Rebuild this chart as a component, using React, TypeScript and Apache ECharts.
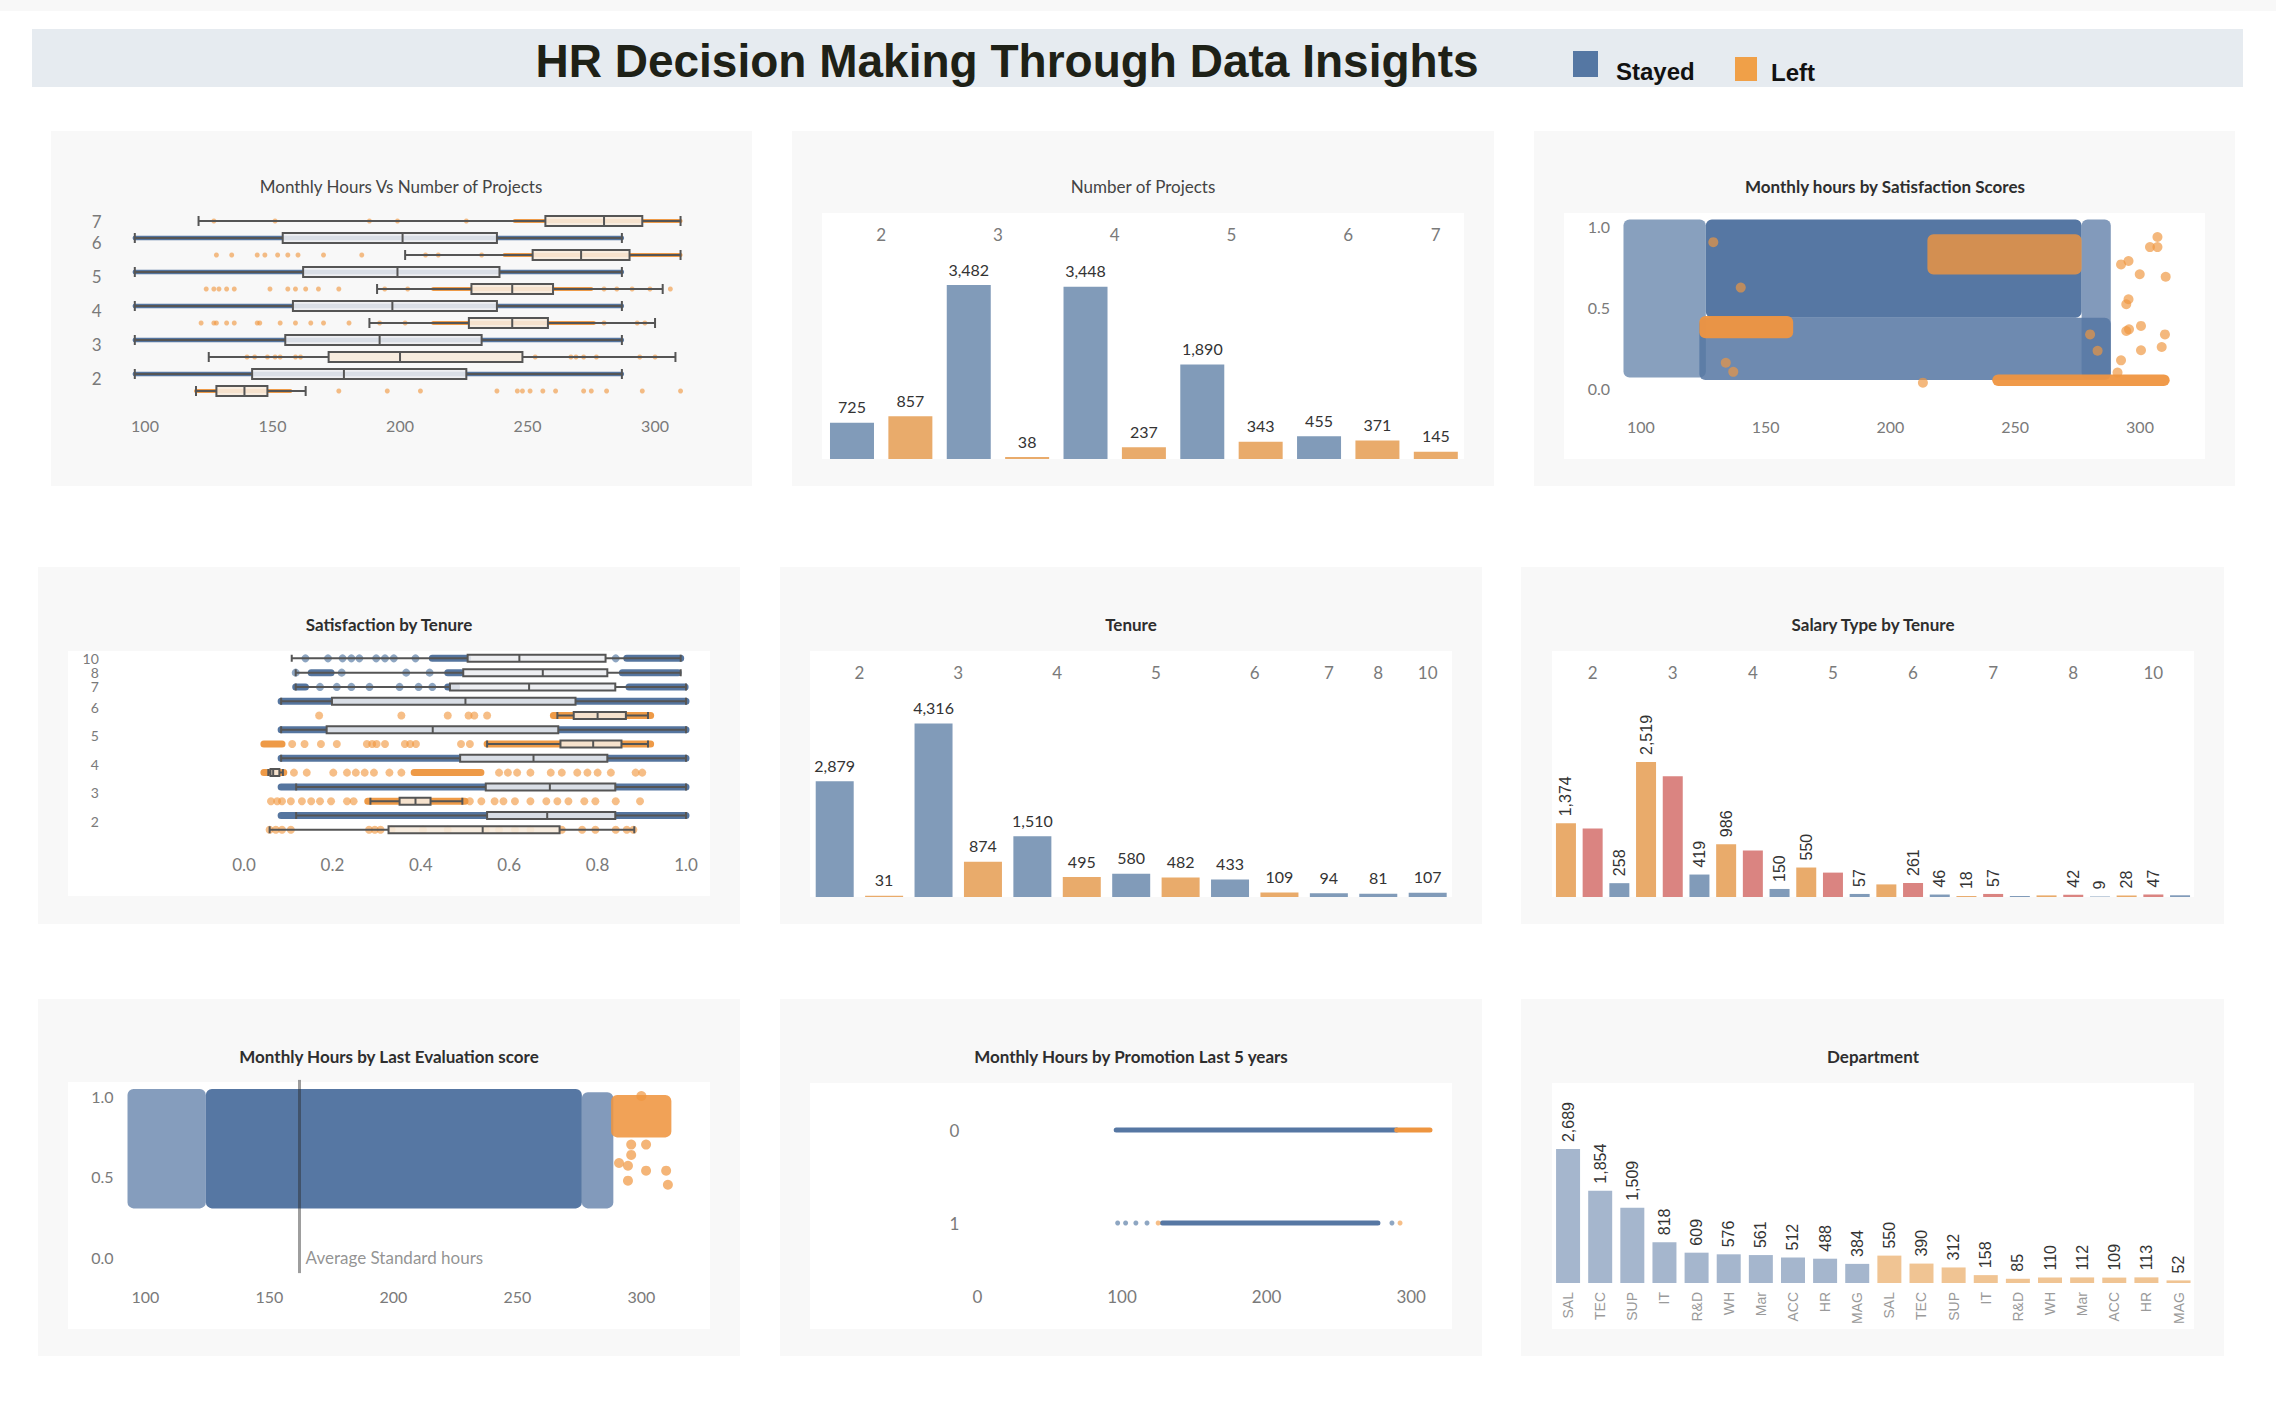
import React, { useEffect, useRef } from 'react';
import * as echarts from 'echarts';

const FONT = 'Lato, "Open Sans", "Noto Sans", sans-serif';
const ARIAL = '"Liberation Sans", Arial, sans-serif';

const STAYED_BAR = '#819bb9';
const LEFT_BAR = '#e9ab6b';
const MEDIUM_BAR = '#da8481';
const STAYED_DENSE = '#55759f';
const LEFT_DENSE = '#ee9a47';
const STAYED_DOT = 'rgba(78,115,160,0.8)';
const LEFT_DOT = 'rgba(240,150,62,0.78)';
const DEPT_STAYED = '#a5b6cd';
const DEPT_LEFT = '#f0c493';

// ================= DATA =================
const hoursTicks = [100, 150, 200, 250, 300];
const scoreTicks = [0, 0.5, 1];
const satTicks = [0, 0.2, 0.4, 0.6, 0.8, 1];
const promoHourTicks = [0, 100, 200, 300];

// --- Monthly Hours Vs Number of Projects (box plots) ---
const projRowLabels = ['7', '6', '6', '5', '5', '4', '4', '3', '3', '2', '2'];
const projRowStatus = ['Left', 'Stayed', 'Left', 'Stayed', 'Left', 'Stayed', 'Left', 'Stayed', 'Left', 'Stayed', 'Left'];
const projHoursBox = [
  [121, 257, 280, 295, 310],
  [96, 154, 201, 238, 287],
  [202, 252, 271, 290, 310],
  [96, 162, 199, 239, 287],
  [191, 228, 244, 260, 303],
  [96, 158, 197, 238, 287],
  [188, 227, 244, 258, 300],
  [96, 155, 192, 232, 287],
  [125, 172, 200, 248, 308],
  [96, 142, 178, 226, 287],
  [120, 128, 139, 148, 163],
];
const projHoursDense = [
  [1, 96, 287], [3, 96, 287], [5, 96, 287], [7, 96, 287], [9, 96, 287],
  [0, 245, 310], [2, 241, 310], [4, 213, 275], [6, 213, 276], [10, 120, 157],
];
const projHoursDots = [
  [127, 151, 188, 199, 226],
  [],
  [128, 134, 144, 147, 152, 156, 160, 170, 185, 210, 215, 232],
  [],
  [124, 127, 129, 132, 135, 149, 156, 159, 163, 168, 176, 194, 203, 280, 285, 291, 298, 306],
  [],
  [122, 127, 128, 132, 135, 144, 145, 153, 159, 165, 170, 180, 192, 202, 280, 293, 296],
  [],
  [140, 143, 148, 151, 153, 159, 161, 253, 267, 269, 272, 277, 294, 300],
  [],
  [176, 195, 208, 238, 246, 248, 251, 256, 261, 272, 275, 281, 295, 310],
];

// --- Number of Projects (bars) ---
const projBarGroup = ['2', '2', '3', '3', '4', '4', '5', '5', '6', '6', '7'];
const projBarStatus = ['Stayed', 'Left', 'Stayed', 'Left', 'Stayed', 'Left', 'Stayed', 'Left', 'Stayed', 'Left', 'Left'];
const projBarValues = [725, 857, 3482, 38, 3448, 237, 1890, 343, 455, 371, 145];

// --- Monthly hours by Satisfaction Scores (point clouds: [hoursFrom, hoursTo, satFrom, satTo, density]) ---
const satHoursStayedClouds = [
  [126, 276.6, 0.434, 1.04, 1],
  [123.4, 288.3, 0.05, 0.434, 0.86],
  [93, 126, 0.065, 1.04, 0.7],
  [276.6, 288.3, 0.055, 1.04, 0.74],
];
const satHoursLeftClouds = [
  [123.4, 161, 0.307, 0.444, 0.95],
  [214.8, 276.6, 0.7, 0.949, 0.82],
  [240.8, 311.9, 0.012, 0.084, 0.95],
];
const satHoursLeftDots = [
  [292.4, 0.763], [295.4, 0.784], [299.9, 0.702], [310.3, 0.687], [304, 0.87], [307, 0.932], [307, 0.87],
  [294.5, 0.517], [295.4, 0.548], [294.5, 0.352], [295.6, 0.362], [300.4, 0.383], [310, 0.331],
  [300.4, 0.233], [308.7, 0.253], [292.4, 0.171], [291, 0.095], [134, 0.156], [137, 0.1], [213, 0.033],
  [280, 0.331], [283, 0.23], [129, 0.9], [140, 0.62],
];

// --- Satisfaction by Tenure (box plots) ---
const tenureRowLabels = ['10', '8', '7', '6', '6', '5', '5', '4', '4', '3', '3', '2', '2'];
const tenureRowStatus = ['Stayed', 'Stayed', 'Stayed', 'Stayed', 'Left', 'Stayed', 'Left', 'Stayed', 'Left', 'Stayed', 'Left', 'Stayed', 'Left'];
const satBox = [
  [0.108, 0.506, 0.623, 0.818, 0.988],
  [0.117, 0.496, 0.676, 0.822, 0.988],
  [0.117, 0.466, 0.645, 0.84, 1.0],
  [0.084, 0.199, 0.501, 0.75, 1.0],
  [0.709, 0.746, 0.8, 0.864, 0.914],
  [0.084, 0.187, 0.427, 0.711, 1.0],
  [0.55, 0.716, 0.79, 0.854, 0.914],
  [0.084, 0.489, 0.655, 0.822, 1.0],
  [0.055, 0.06, 0.066, 0.08, 0.088],
  [0.118, 0.547, 0.692, 0.84, 1.0],
  [0.286, 0.352, 0.388, 0.422, 0.494],
  [0.118, 0.55, 0.686, 0.84, 1.0],
  [0.058, 0.327, 0.54, 0.714, 0.883],
];
const satDense = [
  [0, 0.426, 0.506], [0, 0.866, 0.988],
  [1, 0.152, 0.197], [1, 0.461, 0.491], [1, 0.856, 0.982],
  [2, 0.117, 0.139], [2, 0.461, 0.481], [2, 0.871, 0.998],
  [3, 0.084, 1.0], [5, 0.084, 1.0], [7, 0.084, 1.0], [9, 0.084, 1.0], [11, 0.084, 1.0],
  [4, 0.7, 0.92],
  [6, 0.045, 0.086], [6, 0.55, 0.92],
  [8, 0.045, 0.09], [8, 0.385, 0.536],
  [10, 0.28, 0.5],
];
const satDots = [
  [0.139, 0.19, 0.223, 0.243, 0.261, 0.299, 0.319, 0.339, 0.388, 0.841],
  [0.117, 0.221, 0.367, 0.42],
  [0.172, 0.21, 0.243, 0.284, 0.352, 0.395, 0.426],
  [],
  [0.17, 0.356, 0.461, 0.508, 0.521, 0.55],
  [],
  [0.109, 0.137, 0.174, 0.21, 0.278, 0.29, 0.3, 0.319, 0.364, 0.376, 0.389, 0.491, 0.511],
  [],
  [0.113, 0.142, 0.202, 0.233, 0.253, 0.273, 0.294, 0.329, 0.356, 0.577, 0.597, 0.618, 0.648, 0.694, 0.719, 0.754, 0.777, 0.8, 0.83, 0.886, 0.901],
  [],
  [0.061, 0.075, 0.086, 0.106, 0.131, 0.152, 0.172, 0.197, 0.233, 0.248, 0.511, 0.537, 0.567, 0.587, 0.613, 0.648, 0.684, 0.709, 0.734, 0.77, 0.795, 0.841, 0.896],
  [],
  [0.058, 0.072, 0.086, 0.106, 0.283, 0.296, 0.309, 0.334, 0.405, 0.461, 0.547, 0.577, 0.613, 0.648, 0.719, 0.765, 0.795, 0.841, 0.866, 0.881],
];

// --- Tenure (bars) ---
const tenureBarGroup = ['2', '2', '3', '3', '4', '4', '5', '5', '6', '6', '7', '8', '10'];
const tenureBarStatus = ['Stayed', 'Left', 'Stayed', 'Left', 'Stayed', 'Left', 'Stayed', 'Left', 'Stayed', 'Left', 'Stayed', 'Stayed', 'Stayed'];
const tenureBarValues = [2879, 31, 4316, 874, 1510, 495, 580, 482, 433, 109, 94, 81, 107];

// --- Salary Type by Tenure ---
const salaryTenure = ['2', '3', '4', '5', '6', '7', '8', '10'];
const salaryLevels = ['low', 'medium', 'high'];
const salaryLow = [1374, 2519, 986, 550, 235, 18, 30, 28];
const salaryMedium = [1278, 2252, 869, 455, 261, 57, 42, 47];
const salaryHigh = [258, 419, 150, 57, 46, 19, 9, 32];
const salaryLowLabeled = [true, true, true, true, false, true, false, true];
const salaryMediumLabeled = [false, false, false, false, true, true, true, true];
const salaryHighLabeled = [true, true, true, true, true, false, true, false];

// --- Monthly Hours by Last Evaluation score ---
const evalStayedClouds = [
  [124.4, 276, 0.302, 1.043, 1],
  [92.8, 124.4, 0.302, 1.043, 0.72],
  [276, 288.7, 0.302, 1.023, 0.74],
];
const evalLeftClouds = [[287.8, 312.1, 0.743, 1.006, 0.88]];
const evalLeftDots = [
  [295.9, 0.698], [301.9, 0.698], [295.9, 0.634], [291, 0.584], [294.6, 0.567], [294.6, 0.474],
  [301.9, 0.536], [310, 0.536], [310.7, 0.449], [300, 1.0],
];
const avgStandardHours = 162;

// --- Monthly Hours by Promotion Last 5 years ---
const promoRows = ['0', '1'];
const promoStayedDense = [[0, 96, 290], [1, 128, 277]];
const promoLeftDense = [[0, 290, 313]];
const promoStayedDots = [[97, 1], [102.5, 1], [109.6, 1], [117.3, 1], [286.7, 1]];
const promoLeftDots = [[125, 1], [292.3, 1]];

// --- Department ---
const deptNames = ['SAL', 'TEC', 'SUP', 'IT', 'R&D', 'WH', 'Mar', 'ACC', 'HR', 'MAG'];
const deptStayed = [2689, 1854, 1509, 818, 609, 576, 561, 512, 488, 384];
const deptLeft = [550, 390, 312, 158, 85, 110, 112, 109, 113, 52];

// ================= HELPERS =================
const fmt = (v: number) => Number(v).toLocaleString('en-US');

function groupCenters(groups: string[]) {
  const order: string[] = [];
  const idx: Record<string, number[]> = {};
  groups.forEach((g, i) => {
    if (!idx[g]) { idx[g] = []; order.push(g); }
    idx[g].push(i);
  });
  return order.map((g) => ({ label: g, pos: idx[g].reduce((a, b) => a + b, 0) / idx[g].length }));
}
const labelAt = (centers: { label: string; pos: number }[], v: number) => {
  const c = centers.find((c) => Math.abs(c.pos - v) < 1e-6);
  return c ? c.label : '';
};

function stripSeries(xi: number, yi: number, rows: number[][], color: string, thickness: number, z: number) {
  return {
    type: 'custom', xAxisIndex: xi, yAxisIndex: yi, z, silent: true,
    encode: { x: [1, 2], y: 0 },
    data: rows,
    renderItem: (_p: any, api: any) => {
      const a = api.coord([api.value(1), api.value(0)]);
      const b = api.coord([api.value(2), api.value(0)]);
      return {
        type: 'rect',
        shape: { x: a[0] - thickness / 2, y: a[1] - thickness / 2, width: Math.max(b[0] - a[0], 0) + thickness, height: thickness, r: thickness / 2 },
        style: { fill: color },
      };
    },
  };
}

function cloudSeries(xi: number, yi: number, clouds: number[][], color: string, z: number) {
  return {
    type: 'custom', xAxisIndex: xi, yAxisIndex: yi, z, silent: true,
    encode: { x: [0, 1], y: [2, 3] },
    data: clouds,
    renderItem: (_p: any, api: any) => {
      const a = api.coord([api.value(0), api.value(3)]);
      const b = api.coord([api.value(1), api.value(2)]);
      return {
        type: 'rect',
        shape: { x: a[0], y: a[1], width: b[0] - a[0], height: b[1] - a[1], r: 6 },
        style: { fill: color, opacity: api.value(4) },
      };
    },
  };
}

function dotSeries(xi: number, yi: number, data: number[][], color: string, size: number, z: number) {
  return { type: 'scatter', xAxisIndex: xi, yAxisIndex: yi, z, silent: true, symbolSize: size, itemStyle: { color }, data };
}

function boxSeries(xi: number, yi: number, boxes: number[][], status: string[], width: number, z: number) {
  return {
    type: 'boxplot', xAxisIndex: xi, yAxisIndex: yi, z, silent: true, boxWidth: [width, width],
    itemStyle: { borderColor: '#555', borderWidth: 2 },
    data: boxes.map((b, i) => ({
      value: b,
      itemStyle: { color: status[i] === 'Stayed' ? 'rgba(236,237,240,0.88)' : 'rgba(246,234,220,0.9)', borderColor: '#555', borderWidth: 2 },
    })),
  };
}

function rowAxisLabel(labels: string[], shift: number, margin: number, size: number, lineHeight: number) {
  const base = { fontSize: size, lineHeight, color: '#7a7a7a', fontFamily: FONT };
  return {
    interval: 0, margin,
    formatter: (_v: string, i: number) => {
      const lab = labels[i];
      if (labels.indexOf(lab) !== i) return '';
      return labels.filter((l) => l === lab).length > 1 ? `{s|${lab}}` : `{n|${lab}}`;
    },
    rich: { s: { ...base, padding: [shift * 2, 0, 0, 0] }, n: { ...base } },
  };
}

// ================= OPTION =================
function buildOption(): any {
  const grid: any[] = [];
  const xAxis: any[] = [];
  const yAxis: any[] = [];
  const series: any[] = [];
  const elements: any[] = [];
  const add = (arr: any[], o: any) => { arr.push(o); return arr.length - 1; };
  const plain = { axisLine: { show: false, onZero: false }, axisTick: { show: false }, splitLine: { show: false } };
  const tick = (margin: number, extra: any = {}) => ({ color: '#7a7a7a', fontSize: 16, fontFamily: FONT, margin, ...extra });
  const mkGrid = (left: number, top: number, width: number, height: number) =>
    add(grid, { left, top, width, height, containLabel: false, outerBoundsMode: 'none' });

  const rect = (x: number, y: number, w: number, h: number, fill: string, z: number) =>
    ({ type: 'rect', z, silent: true, shape: { x, y, width: w, height: h }, style: { fill } });
  const text = (t: string, x: number, y: number, size: number, weight: string, fill: string, family: string, align = 'center') =>
    ({ type: 'text', z: 1, silent: true, x, y, style: { text: t, fill, fontSize: size, fontWeight: weight, fontFamily: family, align, verticalAlign: 'middle', textAlign: align, textVerticalAlign: 'middle' } });

  // page chrome
  elements.push(rect(0, 0, 2276, 11, '#f8f8f8', -3));
  elements.push(rect(32, 29, 2211, 58, '#e6ebf0', -3));
  elements.push(text('HR Decision Making Through Data Insights', 1007, 61, 46, 'bold', '#1e2117', ARIAL));
  elements.push(rect(1573, 51, 25, 26, '#5577a3', 0));
  elements.push(text('Stayed', 1616, 71, 24, 'bold', '#111111', ARIAL, 'left'));
  elements.push(rect(1735, 57, 22, 24, '#f0a048', 0));
  elements.push(text('Left', 1771, 72, 24, 'bold', '#111111', ARIAL, 'left'));

  const panels = [
    [51, 131, 701, 355], [792, 131, 702, 355], [1534, 131, 701, 355],
    [38, 567, 702, 357], [780, 567, 702, 357], [1521, 567, 703, 357],
    [38, 999, 702, 357], [780, 999, 702, 357], [1521, 999, 703, 357],
  ];
  panels.forEach((p) => elements.push(rect(p[0], p[1], p[2], p[3], '#f8f8f8', -2)));
  const plotAreas = [
    [822, 213, 642, 246], [1564, 213, 641, 246],
    [68, 651, 642, 245], [810, 651, 642, 246], [1552, 651, 642, 246],
    [68, 1082, 642, 247], [810, 1083, 642, 246], [1552, 1083, 642, 246],
  ];
  plotAreas.forEach((p) => elements.push(rect(p[0], p[1], p[2], p[3], '#ffffff', -1)));
  const titles: [string, number, number, string][] = [
    ['Monthly Hours Vs Number of Projects', 401, 186, 'normal'],
    ['Number of Projects', 1143, 186, 'normal'],
    ['Monthly hours by Satisfaction Scores', 1885, 186, 'bold'],
    ['Satisfaction by Tenure', 389, 624, 'bold'],
    ['Tenure', 1131, 624, 'bold'],
    ['Salary Type by Tenure', 1873, 624, 'bold'],
    ['Monthly Hours by Last Evaluation score', 389, 1056, 'bold'],
    ['Monthly Hours by Promotion Last 5 years', 1131, 1056, 'bold'],
    ['Department', 1873, 1056, 'bold'],
  ];
  titles.forEach((t) => elements.push(text(t[0], t[1], t[2], 17, t[3], t[3] === 'bold' ? '#2e2e2e' : '#444444', FONT)));

  // ---------- P1: Monthly Hours Vs Number of Projects ----------
  {
    const g = mkGrid(119.5, 212.5, 573.8, 187);
    const xi = add(xAxis, { gridIndex: g, type: 'value', min: 90, max: 315, ...plain, axisLabel: tick(18, { customValues: hoursTicks }) });
    const yi = add(yAxis, {
      gridIndex: g, type: 'category', inverse: true, ...plain,
      data: projRowLabels.map((l, i) => `${l}|${projRowStatus[i]}|${i}`),
      axisLabel: rowAxisLabel(projRowLabels, 4, 18, 17, 16),
    });
    series.push(stripSeries(xi, yi, projHoursDense.filter((r) => projRowStatus[r[0]] === 'Stayed'), STAYED_DENSE, 4.5, 2));
    series.push(stripSeries(xi, yi, projHoursDense.filter((r) => projRowStatus[r[0]] === 'Left'), LEFT_DENSE, 4, 2));
    const dots: number[][] = [];
    projHoursDots.forEach((vals, row) => vals.forEach((v) => dots.push([v, row])));
    series.push(dotSeries(xi, yi, dots, LEFT_DOT, 5, 3));
    series.push(boxSeries(xi, yi, projHoursBox, projRowStatus, 10, 5));
  }

  // ---------- P2: Number of Projects ----------
  {
    const centers = groupCenters(projBarGroup);
    const g = mkGrid(822.8, 250, 642.2, 209);
    const xi = add(xAxis, { gridIndex: g, type: 'category', show: false, data: projBarGroup.map((p, i) => `${p}|${projBarStatus[i]}`) });
    add(xAxis, {
      gridIndex: g, type: 'value', position: 'top', min: -0.5, max: projBarGroup.length - 0.5, ...plain,
      axisLabel: tick(7, { fontSize: 17, customValues: centers.map((c) => c.pos), formatter: (v: number) => labelAt(centers, v) }),
    });
    const yi = add(yAxis, { gridIndex: g, type: 'value', min: 0, max: 4183, show: false });
    series.push({
      type: 'bar', xAxisIndex: xi, yAxisIndex: yi, barWidth: 44, silent: true,
      data: projBarValues.map((v, i) => ({ value: v, itemStyle: { color: projBarStatus[i] === 'Stayed' ? STAYED_BAR : LEFT_BAR } })),
      label: { show: true, position: 'top', distance: 8, formatter: (p: any) => fmt(p.value), fontFamily: FONT, fontSize: 16, color: '#333' },
    });
  }

  // ---------- P3: Monthly hours by Satisfaction Scores ----------
  {
    const g = mkGrid(1616, 209.8, 573.9, 194.4);
    const xi = add(xAxis, { gridIndex: g, type: 'value', min: 90, max: 320, ...plain, axisLabel: tick(14, { customValues: hoursTicks }) });
    const yi = add(yAxis, { gridIndex: g, type: 'value', min: -0.1, max: 1.1, ...plain, axisLabel: tick(6, { customValues: scoreTicks, formatter: (v: number) => v.toFixed(1) }) });
    series.push(cloudSeries(xi, yi, satHoursStayedClouds, '#5677a3', 2));
    series.push(cloudSeries(xi, yi, satHoursLeftClouds, '#ef9540', 3));
    series.push(dotSeries(xi, yi, satHoursLeftDots, 'rgba(239,150,64,0.85)', 10, 4));
  }

  // ---------- P4: Satisfaction by Tenure ----------
  {
    const g = mkGrid(199.8, 651.2, 508.3, 185.7);
    const xi = add(xAxis, { gridIndex: g, type: 'value', min: -0.1, max: 1.05, ...plain, axisLabel: tick(19, { fontSize: 17, customValues: satTicks, formatter: (v: number) => v.toFixed(1) }) });
    const yi = add(yAxis, {
      gridIndex: g, type: 'category', inverse: true, ...plain,
      data: tenureRowLabels.map((l, i) => `${l}|${tenureRowStatus[i]}|${i}`),
      axisLabel: rowAxisLabel(tenureRowLabels, 6, 101, 14, 12),
    });
    series.push(stripSeries(xi, yi, satDense.filter((r) => tenureRowStatus[r[0]] === 'Stayed'), STAYED_DENSE, 7, 2));
    series.push(stripSeries(xi, yi, satDense.filter((r) => tenureRowStatus[r[0]] === 'Left'), LEFT_DENSE, 7, 2));
    const sDots: number[][] = [];
    const lDots: number[][] = [];
    satDots.forEach((vals, row) => vals.forEach((v) => (tenureRowStatus[row] === 'Stayed' ? sDots : lDots).push([v, row])));
    series.push(dotSeries(xi, yi, sDots, STAYED_DOT, 8, 3));
    series.push(dotSeries(xi, yi, lDots, LEFT_DOT, 8, 3));
    series.push(boxSeries(xi, yi, satBox, tenureRowStatus, 7, 5));
  }

  // ---------- P5: Tenure ----------
  {
    const centers = groupCenters(tenureBarGroup);
    const g = mkGrid(810, 688, 642.4, 209);
    const xi = add(xAxis, { gridIndex: g, type: 'category', show: false, data: tenureBarGroup.map((p, i) => `${p}|${tenureBarStatus[i]}|${i}`) });
    add(xAxis, {
      gridIndex: g, type: 'value', position: 'top', min: -0.5, max: tenureBarGroup.length - 0.5, ...plain,
      axisLabel: tick(7, { fontSize: 17, customValues: centers.map((c) => c.pos), formatter: (v: number) => labelAt(centers, v) }),
    });
    const yi = add(yAxis, { gridIndex: g, type: 'value', min: 0, max: 5199, show: false });
    series.push({
      type: 'bar', xAxisIndex: xi, yAxisIndex: yi, barWidth: 38, silent: true,
      data: tenureBarValues.map((v, i) => ({ value: v, itemStyle: { color: tenureBarStatus[i] === 'Stayed' ? STAYED_BAR : LEFT_BAR } })),
      label: { show: true, position: 'top', distance: 8, formatter: (p: any) => fmt(p.value), fontFamily: FONT, fontSize: 16, color: '#333' },
    });
  }

  // ---------- P6: Salary Type by Tenure ----------
  {
    const byLevel = [salaryLow, salaryMedium, salaryHigh];
    const labeled = [salaryLowLabeled, salaryMediumLabeled, salaryHighLabeled];
    const colors = [LEFT_BAR, MEDIUM_BAR, STAYED_BAR];
    const keys: string[] = [];
    const groups: string[] = [];
    const items: any[] = [];
    salaryTenure.forEach((t, ti) => salaryLevels.forEach((lvl, li) => {
      keys.push(`${t}|${lvl}`);
      groups.push(t);
      items.push({ value: byLevel[li][ti], itemStyle: { color: colors[li] }, label: { show: labeled[li][ti] } });
    }));
    const centers = groupCenters(groups);
    const g = mkGrid(1552.6, 688, 640.8, 209);
    const xi = add(xAxis, { gridIndex: g, type: 'category', show: false, data: keys });
    add(xAxis, {
      gridIndex: g, type: 'value', position: 'top', min: -0.5, max: keys.length - 0.5, ...plain,
      axisLabel: tick(7, { fontSize: 17, customValues: centers.map((c) => c.pos), formatter: (v: number) => labelAt(centers, v) }),
    });
    const yi = add(yAxis, { gridIndex: g, type: 'value', min: 0, max: 3899, show: false });
    series.push({
      type: 'bar', xAxisIndex: xi, yAxisIndex: yi, barWidth: 20, silent: true, data: items,
      label: { show: true, position: 'top', rotate: 90, align: 'left', verticalAlign: 'middle', distance: 7, formatter: (p: any) => fmt(p.value), fontFamily: ARIAL, fontSize: 16, color: '#333' },
    });
  }

  // ---------- P7: Monthly Hours by Last Evaluation score ----------
  {
    const g = mkGrid(115.6, 1079.9, 570.4, 193.2);
    const xi = add(xAxis, { gridIndex: g, type: 'value', min: 88, max: 318, ...plain, axisLabel: tick(15, { customValues: hoursTicks }) });
    const yi = add(yAxis, { gridIndex: g, type: 'value', min: -0.1, max: 1.1, ...plain, axisLabel: tick(2, { customValues: scoreTicks, formatter: (v: number) => v.toFixed(1) }) });
    series.push(cloudSeries(xi, yi, evalStayedClouds, '#5677a3', 2));
    series.push(cloudSeries(xi, yi, evalLeftClouds, '#ef9540', 3));
    series.push({
      ...dotSeries(xi, yi, evalLeftDots, 'rgba(239,150,64,0.88)', 10, 4),
      markLine: {
        silent: true, symbol: ['none', 'none'], label: { show: false },
        lineStyle: { color: 'rgba(40,40,40,0.45)', width: 3, type: 'solid' },
        data: [{ xAxis: avgStandardHours }],
      },
    });
    series.push({
      type: 'scatter', xAxisIndex: xi, yAxisIndex: yi, z: 6, silent: true, symbolSize: 1,
      itemStyle: { color: 'rgba(0,0,0,0)' },
      data: [[avgStandardHours, 0]],
      label: { show: true, position: 'right', distance: 6, formatter: 'Average Standard hours', fontFamily: FONT, fontSize: 17, color: '#777' },
    });
  }

  // ---------- P8: Monthly Hours by Promotion Last 5 years ----------
  {
    const g = mkGrid(977.4, 1083.5, 462.7, 186);
    const xi = add(xAxis, { gridIndex: g, type: 'value', min: 0, max: 320, ...plain, axisLabel: tick(18, { fontSize: 17, customValues: promoHourTicks }) });
    const yi = add(yAxis, { gridIndex: g, type: 'category', inverse: true, data: promoRows, ...plain, axisLabel: tick(18, { fontSize: 17 }) });
    series.push(stripSeries(xi, yi, promoStayedDense, '#5677a3', 5, 2));
    series.push(stripSeries(xi, yi, promoLeftDense, '#ee9540', 5, 2));
    series.push(dotSeries(xi, yi, promoStayedDots, STAYED_DOT, 5, 3));
    series.push(dotSeries(xi, yi, promoLeftDots, LEFT_DOT, 5, 3));
  }

  // ---------- P9: Department ----------
  {
    const keys = [...deptNames.map((n) => `${n}|Stayed`), ...deptNames.map((n) => `${n}|Left`)];
    const vals = [...deptStayed, ...deptLeft];
    const g = mkGrid(1552, 1083, 642.6, 200);
    const xi = add(xAxis, {
      gridIndex: g, type: 'category', data: keys, ...plain,
      axisLabel: { interval: 0, rotate: 90, margin: 9, fontFamily: ARIAL, fontSize: 14, color: '#9a9a9a', formatter: (v: string) => v.split('|')[0] },
    });
    const yi = add(yAxis, { gridIndex: g, type: 'value', min: 0, max: 4016, show: false });
    series.push({
      type: 'bar', xAxisIndex: xi, yAxisIndex: yi, barWidth: 24, silent: true,
      data: vals.map((v, i) => ({ value: v, itemStyle: { color: keys[i].endsWith('Stayed') ? DEPT_STAYED : DEPT_LEFT } })),
      label: { show: true, position: 'top', rotate: 90, align: 'left', verticalAlign: 'middle', distance: 7, formatter: (p: any) => fmt(p.value), fontFamily: ARIAL, fontSize: 16, color: '#333' },
    });
  }

  return {
    animation: false,
    backgroundColor: '#ffffff',
    tooltip: { show: false },
    grid, xAxis, yAxis, series,
    graphic: { elements },
  };
}

export default function App() {
  const ref = useRef<HTMLDivElement>(null);
  useEffect(() => {
    if (!ref.current) return;
    const chart = echarts.init(ref.current, null, { renderer: 'svg' });
    chart.setOption(buildOption());
    return () => chart.dispose();
  }, []);
  return (
    <div style={{ position: 'fixed', left: 0, top: 0, width: 2276, height: 1404, margin: 0, padding: 0, background: '#ffffff' }}>
      <div ref={ref} style={{ width: 2276, height: 1404 }} />
    </div>
  );
}
